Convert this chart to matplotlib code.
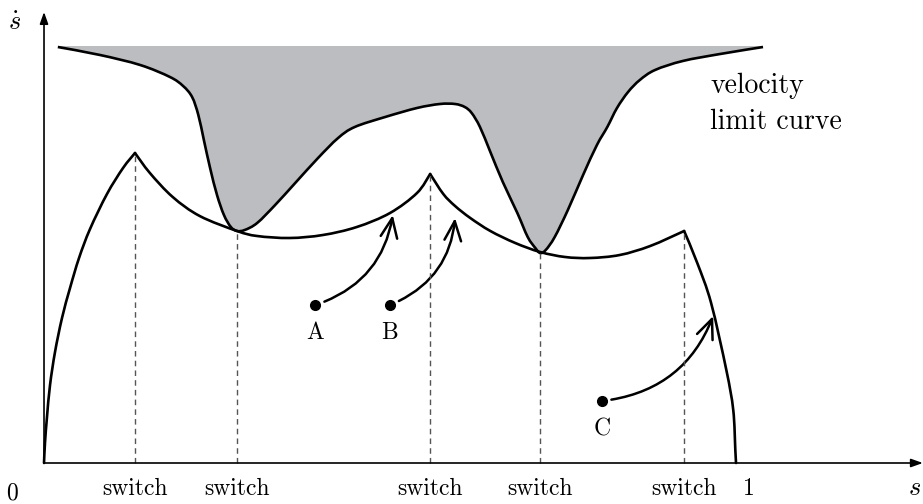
import matplotlib
matplotlib.use("Agg")
import matplotlib.pyplot as plt
from matplotlib.patches import FancyArrowPatch, PathPatch
from matplotlib.path import Path

plt.rcParams['font.family'] = 'serif'
plt.rcParams['font.serif'] = ['cmr10', 'DejaVu Serif']
plt.rcParams['mathtext.fontset'] = 'cm'

# velocity limit curve (s, s_dot)
vlc_s = [0.020, 0.081, 0.139, 0.182, 0.201, 0.214, 0.223, 0.231, 0.240, 0.250,
         0.260, 0.270, 0.279, 0.290, 0.308, 0.334, 0.363, 0.396, 0.425, 0.449,
         0.493, 0.539, 0.572, 0.594, 0.608, 0.618, 0.630, 0.645, 0.663, 0.684,
         0.699, 0.710, 0.717, 0.725, 0.738, 0.757, 0.779, 0.799, 0.814, 0.828,
         0.844, 0.861, 0.883, 0.923, 0.977, 1.039]
vlc_v = [4.16, 4.08, 3.98, 3.86, 3.77, 3.66, 3.48, 3.23, 2.95, 2.68,
         2.48, 2.36, 2.32, 2.33, 2.40, 2.58, 2.80, 3.05, 3.25, 3.36,
         3.46, 3.55, 3.59, 3.59, 3.56, 3.50, 3.36, 3.11, 2.81, 2.50,
         2.26, 2.15, 2.10, 2.13, 2.26, 2.53, 2.88, 3.18, 3.36, 3.55,
         3.71, 3.83, 3.93, 4.02, 4.09, 4.16]
vlc_top = 4.17

# phase-plane trajectories between switch points
acc1_s = [0.000, 0.0014, 0.0043, 0.0087, 0.0159, 0.0260, 0.0376, 0.0506, 0.0665,
          0.0910, 0.1142, 0.1315]
acc1_v = [0.00, 0.20, 0.46, 0.78, 1.11, 1.45, 1.75, 2.05, 2.34, 2.69, 2.95, 3.10]

arc1_s = [0.1315, 0.153, 0.186, 0.225, 0.279, 0.308, 0.355, 0.403, 0.452, 0.500, 0.539, 0.558]
arc1_v = [3.10, 2.90, 2.66, 2.47, 2.32, 2.27, 2.25, 2.28, 2.36, 2.50, 2.70, 2.89]

arc2_s = [0.558, 0.577, 0.594, 0.616, 0.645, 0.681, 0.717, 0.753, 0.789, 0.832, 0.876, 0.925]
arc2_v = [2.89, 2.69, 2.57, 2.45, 2.32, 2.20, 2.11, 2.06, 2.05, 2.08, 2.17, 2.32]

dec_s = [0.925, 0.944, 0.964, 0.986, 0.996, 0.999, 1.000]
dec_v = [2.32, 2.00, 1.60, 0.93, 0.53, 0.13, 0.00]

switch_s = [0.1315, 0.279, 0.558, 0.717, 0.925]
switch_v = [3.10, 2.32, 2.89, 2.10, 2.32]

# starting points and where their arrows land
pt_names = ['A', 'B', 'C']
pt_s = [0.392, 0.500, 0.806]
pt_v = [1.58, 1.58, 0.62]
arr_s = [0.504, 0.594, 0.967]
arr_v = [2.48, 2.45, 1.47]


def smooth_verts(xs, ys):
    # bezier segments through the read points (catmull-rom tangents)
    pts = list(zip(xs, ys))
    n = len(pts)
    verts = [pts[0]]
    codes = [Path.MOVETO]
    for i in range(n - 1):
        p0 = pts[i - 1] if i > 0 else pts[i]
        p1 = pts[i]
        p2 = pts[i + 1]
        p3 = pts[i + 2] if i + 2 < n else pts[i + 1]
        c1 = (p1[0] + (p2[0] - p0[0]) / 6, p1[1] + (p2[1] - p0[1]) / 6)
        c2 = (p2[0] - (p3[0] - p1[0]) / 6, p2[1] - (p3[1] - p1[1]) / 6)
        verts += [c1, c2, p2]
        codes += [Path.CURVE4] * 3
    return verts, codes


fig = plt.figure(figsize=(9.23, 5.04), dpi=100)
ax = fig.add_axes([0, 0, 1, 1])
ax.set_xlim(-0.0636, 1.2702)
ax.set_ylim(-0.41, 4.63)
ax.axis('off')

verts, codes = smooth_verts(vlc_s, vlc_v)
fill_verts = verts + [(vlc_s[-1], vlc_top), (vlc_s[0], vlc_top), verts[0]]
fill_codes = codes + [Path.LINETO, Path.LINETO, Path.CLOSEPOLY]
ax.add_patch(PathPatch(Path(fill_verts, fill_codes), facecolor='#bcbdc0', lw=0))
ax.add_patch(PathPatch(Path(verts, codes), fill=False, edgecolor='k', lw=1.9))

for xs, ys in [(acc1_s, acc1_v), (arc1_s, arc1_v), (arc2_s, arc2_v), (dec_s, dec_v)]:
    verts, codes = smooth_verts(xs, ys)
    ax.add_patch(PathPatch(Path(verts, codes), fill=False, edgecolor='k', lw=1.9,
                           capstyle='round', joinstyle='miter'))

for s, v in zip(switch_s, switch_v):
    ax.plot([s, s], [0, v], color='#555555', lw=1.0, dashes=(4, 3))
    ax.text(s, -0.26, 'switch', ha='center', va='center', fontsize=17)

# axes with arrowheads
ax.annotate('', xy=(1.270, 0), xytext=(0, 0),
            arrowprops=dict(arrowstyle='-|>,head_length=0.7,head_width=0.25',
                            color='k', lw=1.2, shrinkA=0, shrinkB=0))
ax.annotate('', xy=(0, 4.51), xytext=(0, 0),
            arrowprops=dict(arrowstyle='-|>,head_length=0.7,head_width=0.25',
                            color='k', lw=1.2, shrinkA=0, shrinkB=0))

ax.text(-0.046, -0.30, '0', ha='center', va='center', fontsize=17)
ax.text(1.019, -0.26, '1', ha='center', va='center', fontsize=17)
ax.text(1.258, -0.25, r'$s$', ha='center', va='center', fontsize=19)
ax.text(-0.042, 4.40, r'$\dot{s}$', ha='center', va='center', fontsize=19)

ax.text(0.963, 3.77, 'velocity', ha='left', va='center', fontsize=20)
ax.text(0.963, 3.41, 'limit curve', ha='left', va='center', fontsize=20)

for name, s, v, s2, v2 in zip(pt_names, pt_s, pt_v, arr_s, arr_v):
    ax.plot(s, v, 'o', color='k', markersize=7)
    ax.text(s, v - 0.28, name, ha='center', va='center', fontsize=17)
    arrow = FancyArrowPatch((s, v), (s2, v2), connectionstyle='arc3,rad=0.3',
                            arrowstyle='->,head_length=0.7,head_width=0.3',
                            mutation_scale=20, lw=1.8, color='k',
                            shrinkA=7, shrinkB=0)
    ax.add_patch(arrow)

fig.savefig('out.png', dpi=100)
